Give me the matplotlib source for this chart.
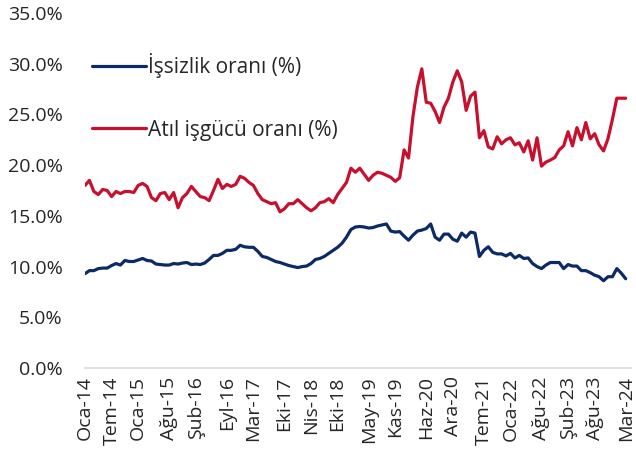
import matplotlib
matplotlib.use("Agg")
import matplotlib.pyplot as plt
import numpy as np

plt.rcParams['font.family'] = ['Open Sans', 'DejaVu Sans']

# monthly series, Oca-14 .. Mar-24 (123 months)
issizlik = [9.3, 9.6, 9.6, 9.8, 9.85, 9.85, 10.1, 10.3, 10.15, 10.6,
            10.5, 10.5, 10.65, 10.8, 10.6, 10.55, 10.25, 10.2, 10.15, 10.15,
            10.3, 10.25, 10.35, 10.4, 10.2, 10.25, 10.2, 10.35, 10.7, 11.1,
            11.1, 11.3, 11.6, 11.6, 11.7, 12.1, 11.95, 11.9, 11.9, 11.5,
            11.0, 10.9, 10.7, 10.5, 10.4, 10.25, 10.1, 10.0, 9.9, 10.0,
            10.05, 10.3, 10.7, 10.8, 11.0, 11.3, 11.6, 11.9, 12.3, 12.9,
            13.65, 13.9, 13.95, 13.9, 13.8, 13.85, 14.0, 14.1, 14.2, 13.5,
            13.4, 13.45, 13.0, 12.6, 13.1, 13.5, 13.6, 13.75, 14.2, 12.9,
            12.6, 13.2, 13.2, 12.7, 12.5, 13.3, 12.9, 13.4, 13.3, 11.0,
            11.6, 11.95, 11.4, 11.25, 11.25, 11.05, 11.3, 10.85, 11.1, 10.8,
            10.85, 10.3, 10.0, 9.8, 10.15, 10.4, 10.4, 10.4, 9.8, 10.2,
            10.05, 10.05, 9.6, 9.6, 9.4, 9.15, 9.0, 8.6, 9.0, 9.0,
            9.8, 9.35, 8.8]

atil_isgucu = [18.0, 18.5, 17.4, 17.1, 17.6, 17.5, 16.9, 17.4, 17.2, 17.4,
               17.4, 17.3, 18.0, 18.2, 17.9, 16.8, 16.5, 17.2, 17.3, 16.6,
               17.3, 15.8, 16.8, 17.2, 17.9, 17.4, 16.9, 16.8, 16.5, 17.5,
               18.6, 17.7, 18.1, 17.9, 18.1, 18.9, 18.7, 18.3, 18.0, 17.2,
               16.6, 16.4, 16.2, 16.3, 15.4, 15.7, 16.2, 16.2, 16.6, 16.2,
               15.8, 15.5, 15.8, 16.3, 16.4, 16.7, 16.3, 17.1, 17.7, 18.3,
               19.7, 19.3, 19.7, 19.1, 18.5, 19.0, 19.3, 19.2, 19.0, 18.8,
               18.4, 18.75, 21.5, 20.7, 24.8, 27.7, 29.5, 26.2, 26.1, 25.3,
               24.2, 25.7, 26.6, 28.2, 29.3, 28.2, 25.4, 26.8, 27.2, 22.7,
               23.4, 21.8, 21.6, 22.8, 22.1, 22.5, 22.7, 22.0, 22.2, 21.3,
               22.4, 20.5, 22.7, 19.9, 20.3, 20.5, 20.75, 21.5, 21.9, 23.3,
               21.9, 23.7, 22.5, 24.2, 22.6, 23.1, 22.0, 21.4, 22.6, 24.5,
               26.6, 26.6, 26.6]

tick_months = [0, 6, 12, 19, 25, 32, 38, 45, 51, 57,
               64, 70, 77, 83, 90, 96, 103, 109, 115, 122]
tick_labels = ['Oca-14', 'Tem-14', 'Oca-15', 'Ağu-15', 'Şub-16', 'Eyl-16',
               'Mar-17', 'Eki-17', 'Nis-18', 'Eki-18', 'May-19', 'Kas-19',
               'Haz-20', 'Ara-20', 'Tem-21', 'Oca-22', 'Ağu-22', 'Şub-23',
               'Ağu-23', 'Mar-24']

blue = '#0C2A66'
red = '#C8102E'
txt = '#262626'

fig = plt.figure(figsize=(6.36, 4.59), dpi=100)
ax = fig.add_axes([85/636, 91/459, 546/636, 355/459])

x = np.arange(len(issizlik))
ax.plot(x, issizlik, color=blue, lw=2.3, label='İşsizlik oranı (%)',
        solid_joinstyle='round', solid_capstyle='round')
ax.plot(x, atil_isgucu, color=red, lw=2.3, label='Atıl işgücü oranı (%)',
        solid_joinstyle='round', solid_capstyle='round')

ax.set_xlim(0, 123.2)
ax.set_ylim(0, 35)
ax.set_yticks(np.arange(0, 35.1, 5))
ax.set_yticklabels(['{:.1f}%'.format(v) for v in np.arange(0, 35.1, 5)])
ax.set_xticks(tick_months)
ax.set_xticklabels(tick_labels, rotation=90)

for s in ['top', 'right', 'left']:
    ax.spines[s].set_visible(False)
ax.spines['bottom'].set_color('#D9D9D9')
ax.spines['bottom'].set_linewidth(1.2)
ax.tick_params(axis='y', length=0, pad=16, labelsize=14, labelcolor=txt)
ax.tick_params(axis='x', length=0, pad=6, labelsize=14, labelcolor=txt)

leg = ax.legend(loc='upper left', bbox_to_anchor=(92/636, 1 - 53/459),
                bbox_transform=fig.transFigure, frameon=False, fontsize=15,
                handlelength=2.6, handletextpad=0.1, labelspacing=2.0,
                borderpad=0, borderaxespad=0)
for t in leg.get_texts():
    t.set_color(txt)

fig.savefig('out.png', dpi=100)
